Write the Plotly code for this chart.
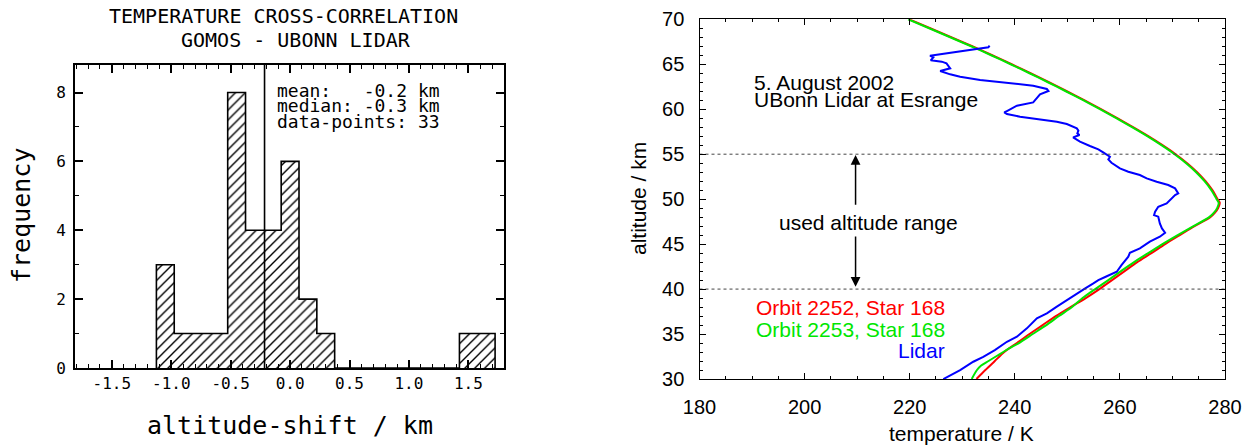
import plotly.graph_objects as go

W, H = 1250, 446

# ---------------- data: histogram ----------------
bin_centers = [-1.05, -0.9, -0.75, -0.6, -0.45, -0.3, -0.15, 0.0, 0.15, 0.3,
               0.45, 0.6, 0.75, 0.9, 1.05, 1.2, 1.35, 1.5, 1.65]
bin_counts = [3, 1, 1, 1, 8, 4, 4, 6, 2, 1, 0, 0, 0, 0, 0, 0, 0, 1, 1]
bin_width = 0.15
mean_shift = -0.215
hist_xtick_vals = [-1.5, -1.0, -0.5, 0.0, 0.5, 1.0, 1.5]
hist_xtick_text = ["-1.5", "-1.0", "-0.5", "0.0", "0.5", "1.0", "1.5"]
hist_ytick_vals = [0, 2, 4, 6, 8]
stats_lines = ["mean:\u00a0\u00a0\u00a0-0.2\u00a0km",
               "median:\u00a0-0.3\u00a0km",
               "data-points:\u00a033"]
hist_title = ["TEMPERATURE CROSS-CORRELATION", "GOMOS - UBONN LIDAR"]

# ---------------- data: temperature profiles ----------------
orbit2252_alt = [30, 31, 32, 33, 34, 35, 36, 37, 38, 39, 40, 41, 42, 43, 44, 45, 46, 47,
                 48, 48.5, 49, 49.6, 50, 51, 52, 53, 54, 55, 56, 57, 58, 59, 60, 61, 62,
                 63, 64, 65, 66, 67, 68, 69, 70]
orbit2252_temp = [232.7, 234.4, 236.2, 238.0, 240.4, 242.8, 245.3, 247.8, 250.6, 253.5,
                  256.1, 258.5, 260.9, 263.3, 266.0, 268.6, 271.4, 274.2, 277.2, 278.1,
                  278.7, 279.0, 278.6, 277.6, 276.3, 274.7, 272.8, 270.6, 268.1, 265.4,
                  262.5, 259.5, 256.4, 253.2, 249.9, 246.5, 243.0, 239.4, 235.7, 231.9,
                  227.9, 223.9, 219.9]

orbit2253_alt = [30, 31, 31.5, 32, 32.5, 33, 33.4, 34, 35, 36, 37, 38, 39, 40, 41, 42, 43,
                 44, 45, 46, 47, 48, 48.5, 49, 49.6, 50, 51, 52, 53, 54, 55, 56, 57, 58,
                 59, 60, 61, 62, 63, 64, 65, 66, 67, 68, 69, 70]
orbit2253_temp = [231.8, 232.8, 233.6, 235.0, 236.4, 237.8, 238.9, 240.8, 243.4, 246.0,
                  248.4, 250.9, 252.9, 255.3, 257.8, 260.2, 262.7, 265.4, 268.1, 271.0,
                  274.0, 277.0, 277.9, 278.5, 278.8, 278.4, 277.4, 276.1, 274.5, 272.6,
                  270.4, 267.9, 265.2, 262.3, 259.3, 256.2, 253.0, 249.7, 246.3, 242.8,
                  239.2, 235.5, 231.7, 227.7, 223.7, 219.7]

lidar_alt = [29.99, 30.99, 31.92, 32.47, 33.22, 34.14, 34.70, 35.63, 36.74, 37.29, 38.04,
             38.78, 39.15, 39.70, 40.07, 40.63, 41.0, 41.37, 41.93, 42.67, 43.22, 43.60,
             44.04, 44.52, 45.27, 45.82, 46.27, 46.75, 47.30, 48.05, 48.23, 48.60, 49.16,
             49.53, 50.46, 50.64, 51.20, 51.57, 51.94, 52.31, 52.68, 53.05, 53.42, 54.05,
             54.42, 54.72, 55.17, 55.54, 55.91, 56.39, 56.87, 57.13, 57.32, 57.61, 57.87,
             58.06, 58.35, 58.61, 58.91, 59.17, 59.47, 59.65, 59.80, 60.39, 60.76, 61.21,
             61.65, 62.03, 62.25, 62.62, 62.88, 63.25, 63.62, 63.88, 64.25, 64.55, 65.10,
             65.29, 65.44, 65.77, 65.95, 66.88, 67.07]
lidar_temp = [226.4, 229.6, 232.1, 234.0, 236.2, 238.5, 240.4, 242.3, 244.2, 246.1, 248.0,
              249.9, 251.1, 252.4, 253.4, 254.95, 255.9, 257.3, 259.4, 260.3, 261.0, 261.6,
              261.9, 263.8, 265.7, 267.6, 268.6, 268.0, 267.6, 267.3, 266.5, 266.7, 267.3,
              268.9, 270.5, 271.1, 270.5, 269.2, 267.0, 265.1, 263.8, 261.6, 260.0, 258.4,
              257.8, 258.1, 256.9, 255.9, 254.3, 252.4, 251.1, 252.3, 251.9, 252.1, 251.8,
              251.1, 249.9, 248.0, 244.2, 241.0, 238.5, 238.0, 238.5, 240.4, 243.5, 244.2,
              244.8, 246.4, 246.1, 243.5, 239.7, 233.4, 229.6, 227.7, 225.8, 227.7, 227.0,
              226.1, 224.0, 224.5, 223.86, 234.97, 235.2]

range_top = 55
range_bottom = 40
arrow_temp = 209.7
arrow_top = [54.9, 49.2]
arrow_bottom = [40.26, 46.0]

profile_labels = ["Orbit 2252, Star 168", "Orbit 2253, Star 168", "Lidar"]
profile_colors = ["#ff0000", "#00e600", "#0000ff"]
label_alts = [38.0, 35.5, 33.2]
label_temp = 227.1
date_lines = ["5. August 2002", "UBonn Lidar at Esrange"]

# ---------------- figure ----------------
fig = go.Figure()

mono = "DejaVu Sans Mono"
sans = "Liberation Sans, Arial, Helvetica, sans-serif"

# histogram bars (hatched)
fig.add_trace(go.Bar(
    x=bin_centers, y=bin_counts, width=bin_width,
    marker=dict(color="white", line=dict(width=0),
                pattern=dict(shape="/", fgcolor="black", bgcolor="white",
                             size=7, solidity=0.2, fillmode="replace")),
    xaxis="x", yaxis="y", showlegend=False, hoverinfo="skip"))

# stair outline
edges = [c - bin_width / 2 for c in bin_centers] + [bin_centers[-1] + bin_width / 2]
step_x = [edges[0]] + edges[:-1] + [edges[-1]]
step_y = [0] + bin_counts + [0]
fig.add_trace(go.Scatter(x=step_x, y=step_y, mode="lines", line_shape="hv",
                         line=dict(color="black", width=1.6),
                         xaxis="x", yaxis="y", showlegend=False, hoverinfo="skip"))

# mean line
fig.add_trace(go.Scatter(x=[mean_shift, mean_shift], y=[0, 8.8], mode="lines",
                         line=dict(color="black", width=1.6),
                         xaxis="x", yaxis="y", showlegend=False, hoverinfo="skip"))

# profiles
fig.add_trace(go.Scatter(x=orbit2252_temp, y=orbit2252_alt, mode="lines",
                         line=dict(color=profile_colors[0], width=2, shape="spline",
                                   smoothing=0.8),
                         xaxis="x2", yaxis="y2", showlegend=False))
fig.add_trace(go.Scatter(x=orbit2253_temp, y=orbit2253_alt, mode="lines",
                         line=dict(color=profile_colors[1], width=2, shape="spline",
                                   smoothing=0.8),
                         xaxis="x2", yaxis="y2", showlegend=False))
fig.add_trace(go.Scatter(x=lidar_temp, y=lidar_alt, mode="lines",
                         line=dict(color=profile_colors[2], width=2),
                         xaxis="x2", yaxis="y2", showlegend=False))

# dotted range lines
for lvl in (range_top, range_bottom):
    fig.add_trace(go.Scatter(x=[180, 280], y=[lvl, lvl], mode="lines",
                             line=dict(color="#444444", width=1, dash="dot"),
                             xaxis="x2", yaxis="y2", showlegend=False, hoverinfo="skip"))

ann = []


def px2paper(x, y):
    return x / W, 1 - y / H


# left plot texts
for txt, (cx, cy) in zip(hist_title, [(283.3, 16), (295.8, 40)]):
    px, py = px2paper(cx, cy)
    ann.append(dict(text=txt, x=px, y=py, xref="paper", yref="paper",
                    xanchor="center", yanchor="middle", showarrow=False,
                    font=dict(family=mono, size=20, color="black")))
for txt, cy in zip(stats_lines, [90.0, 105.5, 121.0]):
    px, py = px2paper(275, cy)
    ann.append(dict(text=txt, x=px, y=py, xref="paper", yref="paper",
                    xanchor="left", yanchor="middle", showarrow=False,
                    font=dict(family=mono, size=18, color="black")))
px, py = px2paper(21, 216)
ann.append(dict(text="frequency", x=px, y=py, xref="paper", yref="paper",
                textangle=-90, xanchor="center", yanchor="middle", showarrow=False,
                font=dict(family=mono, size=25, color="black")))
px, py = px2paper(290, 425)
ann.append(dict(text="altitude-shift / km", x=px, y=py, xref="paper", yref="paper",
                xanchor="center", yanchor="middle", showarrow=False,
                font=dict(family=mono, size=25, color="black")))

# right plot texts
for txt, a in zip(date_lines, [62.96, 61.03]):
    ann.append(dict(text=txt, x=189.9, y=a, xref="x2", yref="y2",
                    xanchor="left", yanchor="middle", showarrow=False,
                    font=dict(family=sans, size=21, color="black")))
ann.append(dict(text="used altitude range", x=212.1, y=47.4, xref="x2", yref="y2",
                xanchor="center", yanchor="middle", showarrow=False,
                font=dict(family=sans, size=21, color="black")))
for txt, a, col in zip(profile_labels, label_alts, profile_colors):
    ann.append(dict(text=txt, x=label_temp, y=a, xref="x2", yref="y2",
                    xanchor="right", yanchor="middle", showarrow=False,
                    font=dict(family=sans, size=21, color=col)))
for tip, tail in (arrow_top, arrow_bottom):
    ann.append(dict(text="", x=arrow_temp, y=tip, ax=arrow_temp, ay=tail,
                    xref="x2", yref="y2", axref="x2", ayref="y2",
                    showarrow=True, arrowhead=2, arrowsize=1.3, arrowwidth=1.5,
                    arrowcolor="black"))
px, py = px2paper(638, 199)
ann.append(dict(text="altitude / km", x=px, y=py, xref="paper", yref="paper",
                textangle=-90, xanchor="center", yanchor="middle", showarrow=False,
                font=dict(family=sans, size=21, color="black")))
px, py = px2paper(962, 433)
ann.append(dict(text="temperature / K", x=px, y=py, xref="paper", yref="paper",
                xanchor="center", yanchor="middle", showarrow=False,
                font=dict(family=sans, size=21, color="black")))

common_axis = dict(showline=True, mirror="allticks", linecolor="black", ticks="inside",
                   showgrid=False, zeroline=False, tickcolor="black", automargin=False)

fig.update_layout(
    template="none",
    width=W, height=H, margin=dict(l=0, r=0, t=0, b=0, pad=0, autoexpand=False),
    paper_bgcolor="white", plot_bgcolor="white", bargap=0, showlegend=False,
    annotations=ann,
    xaxis=dict(domain=[75 / W, 504 / W], range=[-1.81, 1.80], anchor="y",
               tickmode="array", tickvals=hist_xtick_vals, ticktext=hist_xtick_text,
               ticklen=8, tickwidth=1.5, linewidth=2,
               minor=dict(tickmode="linear", tick0=0, dtick=0.1, ticklen=4,
                          ticks="inside", tickcolor="black", tickwidth=1.2),
               tickfont=dict(family=mono, size=16, color="black"),
               **common_axis),
    yaxis=dict(domain=[(H - 368) / H, (H - 65) / H], range=[0, 8.8], anchor="x",
               tickmode="array", tickvals=hist_ytick_vals,
               ticklen=8, tickwidth=1.5, linewidth=2,
               minor=dict(tickmode="linear", tick0=0, dtick=1, ticklen=4,
                          ticks="inside", tickcolor="black", tickwidth=1.2),
               tickfont=dict(family=mono, size=16, color="black"),
               ticklabelstandoff=4,
               **common_axis),
    xaxis2=dict(domain=[699.5 / W, 1225 / W], range=[180, 280], anchor="y2",
                tick0=180, dtick=20, ticklen=6, tickwidth=1, linewidth=1.3,
                minor=dict(tick0=180, dtick=5, ticklen=3, ticks="inside",
                           tickcolor="black", tickwidth=1),
                tickfont=dict(family=sans, size=20, color="black"),
                ticklabelstandoff=10,
                **common_axis),
    yaxis2=dict(domain=[(H - 379) / H, (H - 19.3) / H], range=[30, 70], anchor="x2",
                tick0=30, dtick=5, ticklen=6, tickwidth=1, linewidth=1.3,
                minor=dict(tick0=30, dtick=1, ticklen=3, ticks="inside",
                           tickcolor="black", tickwidth=1),
                tickfont=dict(family=sans, size=20, color="black"),
                ticklabelstandoff=10,
                **common_axis),
)

fig.write_html("out.html")
